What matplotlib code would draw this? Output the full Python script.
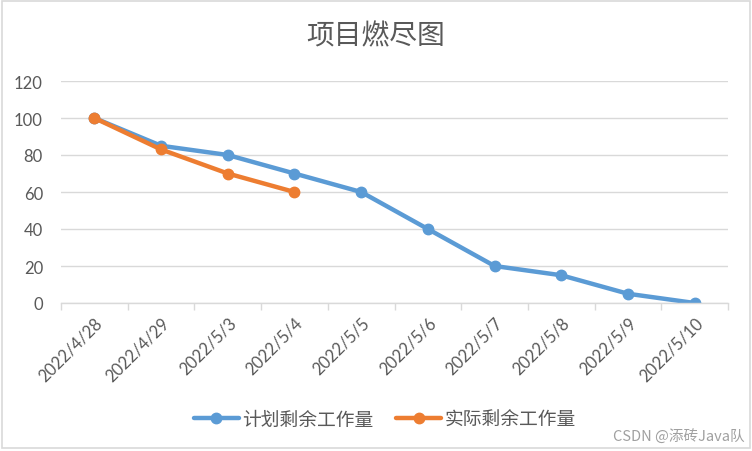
import matplotlib
matplotlib.use("Agg")
import matplotlib.pyplot as plt
from matplotlib.patches import Rectangle

plt.rcParams['font.family'] = ['Noto Sans CJK SC', 'DejaVu Sans']

categories = ["2022/4/28", "2022/4/29", "2022/5/3", "2022/5/4", "2022/5/5",
              "2022/5/6", "2022/5/7", "2022/5/8", "2022/5/9", "2022/5/10"]
plan = [100, 85, 80, 70, 60, 40, 20, 15, 5, 0]
actual = [100, 83, 70, 60]
yticks = [0, 20, 40, 60, 80, 100, 120]

fig = plt.figure(figsize=(7.52, 4.52), dpi=100)
fig.patches.append(Rectangle((0.002, 0.006), 0.996, 0.99, transform=fig.transFigure,
                             fill=False, edgecolor='#D9D9D9', linewidth=1.2))
ax = fig.add_axes([61/752, 1-304/452, (728-61)/752, (304-82)/452])

x = [i + 0.5 for i in range(len(categories))]
ax.plot(x, plan, color='#5B9BD5', lw=3.2, marker='o', ms=7.5, label='计划剩余工作量',
        solid_capstyle='round')
ax.plot(x[:len(actual)], actual, color='#ED7D31', lw=3.2, marker='o', ms=7.5,
        label='实际剩余工作量', solid_capstyle='round')

ax.set_xlim(0, len(categories))
ax.set_ylim(0, 120)
ax.set_yticks(yticks)
ax.yaxis.grid(True, color='#D9D9D9', lw=1)
ax.set_axisbelow(True)
for s in ['top', 'right', 'left']:
    ax.spines[s].set_visible(False)
ax.spines['bottom'].set_color('#D9D9D9')
ax.spines['bottom'].set_linewidth(1)
ax.tick_params(axis='y', length=0, labelsize=12, labelcolor='#595959', pad=13)
for lab in ax.get_yticklabels():
    lab.set_family(['Lato', 'DejaVu Sans'])
ax.set_xticks(range(len(categories) + 1))
ax.set_xticklabels([])
ax.tick_params(axis='x', which='major', length=5, color='#D9D9D9', width=1)
ax.set_xticks(x, minor=True)
ax.set_xticklabels(categories, minor=True, rotation=45, ha='right', rotation_mode='anchor',
                   fontsize=12, color='#595959', family=['Lato', 'DejaVu Sans'])
ax.tick_params(axis='x', which='minor', length=0, pad=8)

fig.text(0.5, 1-36/452, '项目燃尽图', ha='center', va='center', fontsize=20, color='#595959')
leg = fig.legend(loc='center', bbox_to_anchor=(385/752, 1-420/452), ncol=2, frameon=False,
                 fontsize=13.5, handlelength=2.4, columnspacing=1.2, handletextpad=0.2,
                 labelcolor='#595959')
fig.text(745/752, 1-436/452, 'CSDN @添砖Java队', ha='right', va='center', fontsize=10.5,
         color='#A0A0A0')

fig.savefig('out.png', dpi=100)
